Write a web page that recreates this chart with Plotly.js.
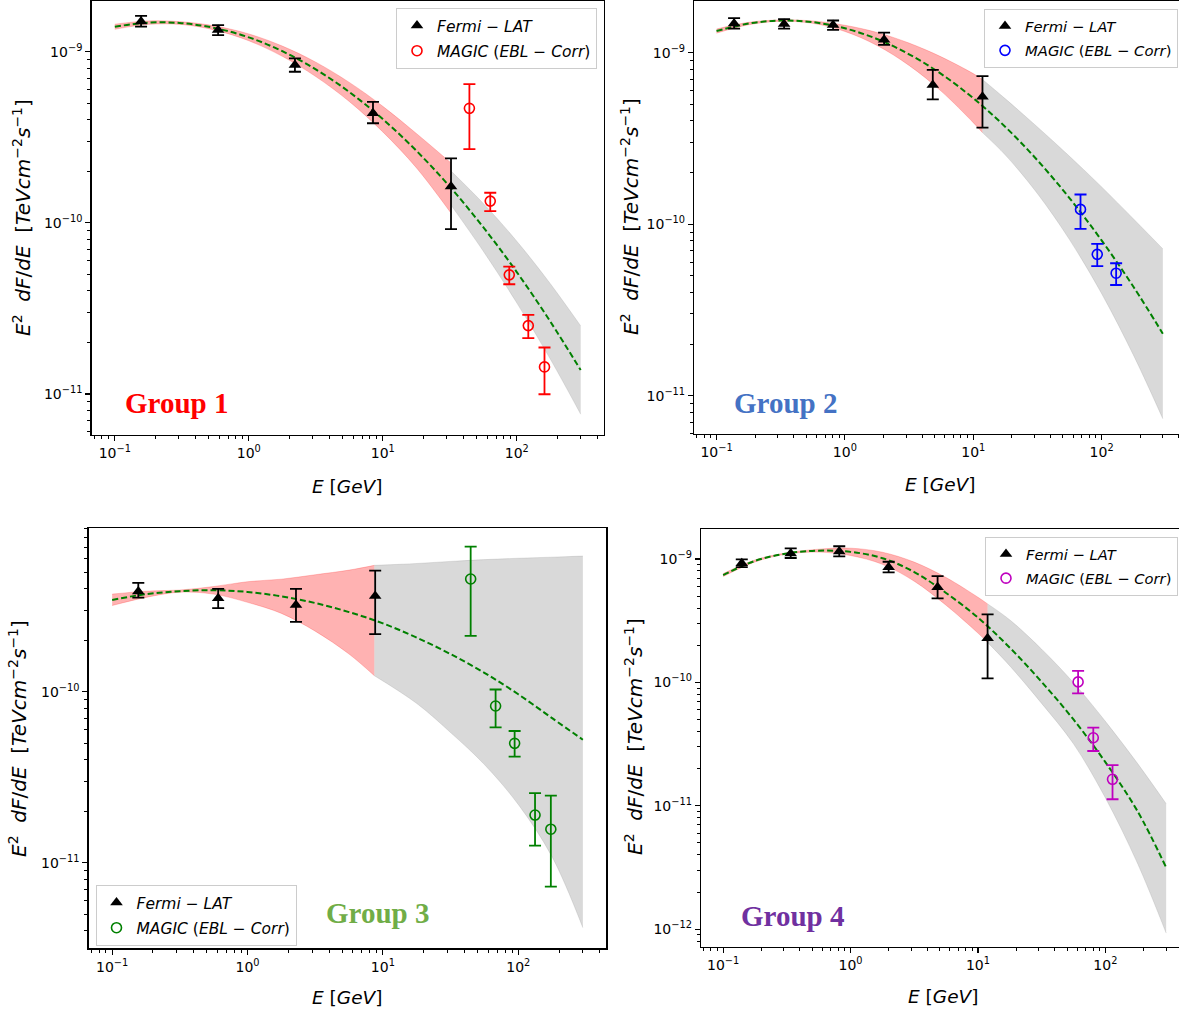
<!DOCTYPE html>
<html><head><meta charset="utf-8">
<script src="https://cdn.plot.ly/plotly-3.0.1.min.js"></script>
<style>html,body{margin:0;padding:0;background:#fff}#chart{width:1179px;height:1013px}</style>
</head><body><div id="chart"></div>
<script>
// ---------------- shared ----------------
const modelE = [0.1, 0.178, 0.316, 0.562, 1, 1.78, 3.16, 5.62, 10, 17.8, 31.6, 56.2, 100, 178, 300];
const xTickVals = [0.1, 1, 10, 100];
const xTickText = ['10<sup>−1</sup>', '10<sup>0</sup>', '10<sup>1</sup>', '10<sup>2</sup>'];
const groupNames = ['Group 1', 'Group 2', 'Group 3', 'Group 4'];
const fermiName = '<i>Fermi − LAT</i>';
const magicName = '<i>MAGIC</i> (<i>EBL − Corr</i>)';

// ---------------- Group 1 ----------------
const g1FermiE = [0.157, 0.59, 2.21, 8.45, 32.3];
const g1FermiF = [1.50e-9, 1.34e-9, 8.36e-10, 4.37e-10, 1.63e-10];
const g1FermiHi = [1.62e-9, 1.43e-9, 9.15e-10, 5.10e-10, 2.38e-10];
const g1FermiLo = [1.40e-9, 1.25e-9, 7.64e-10, 3.82e-10, 9.2e-11];
const g1MagicE = [44.3, 63.4, 87.9, 121.9, 161];
const g1MagicF = [4.67e-10, 1.34e-10, 4.97e-11, 2.51e-11, 1.44e-11];
const g1MagicHi = [6.47e-10, 1.50e-10, 5.55e-11, 2.90e-11, 1.87e-11];
const g1MagicLo = [2.70e-10, 1.17e-10, 4.38e-11, 2.12e-11, 9.97e-12];
const g1ModelF = [1.400e-9, 1.479e-9, 1.469e-9, 1.374e-9, 1.213e-9, 1.007e-9, 7.89e-10, 5.82e-10, 4.04e-10, 2.64e-10, 1.63e-10, 9.44e-11, 5.16e-11, 2.65e-11, 1.38e-11];
const g1FitE = [0.1, 0.178, 0.316, 0.562, 1, 1.78, 3.16, 5.62, 10, 17.8, 32.3];
const g1FitHi = [1.449e-9, 1.514e-9, 1.496e-9, 1.413e-9, 1.271e-9, 1.079e-9, 8.69e-10, 6.62e-10, 4.80e-10, 3.33e-10, 2.24e-10];
const g1FitLo = [1.352e-9, 1.445e-9, 1.442e-9, 1.337e-9, 1.159e-9, 9.40e-10, 7.16e-10, 5.12e-10, 3.40e-10, 2.10e-10, 1.14e-10];
const g1ExtE = [32.3, 56.2, 100, 178, 300];
const g1ExtHi = [2.01e-10, 1.30e-10, 7.82e-11, 4.41e-11, 2.50e-11];
const g1ExtLo = [1.27e-10, 6.84e-11, 3.41e-11, 1.60e-11, 7.62e-12];

// ---------------- Group 2 ----------------
const g2FermiE = [0.137, 0.336, 0.809, 2.02, 4.84, 11.8];
const g2FermiF = [1.48e-9, 1.47e-9, 1.45e-9, 1.19e-9, 6.48e-10, 5.53e-10];
const g2FermiHi = [1.59e-9, 1.57e-9, 1.54e-9, 1.31e-9, 7.93e-10, 7.31e-10];
const g2FermiLo = [1.38e-9, 1.38e-9, 1.36e-9, 1.11e-9, 5.34e-10, 3.66e-10];
const g2MagicE = [68.5, 92.5, 129.8];
const g2MagicF = [1.22e-10, 6.67e-11, 5.18e-11];
const g2MagicHi = [1.49e-10, 7.67e-11, 5.92e-11];
const g2MagicLo = [9.38e-11, 5.70e-11, 4.42e-11];
const g2ModelF = [1.337e-9, 1.479e-9, 1.538e-9, 1.507e-9, 1.387e-9, 1.202e-9, 9.79e-10, 7.52e-10, 5.43e-10, 3.69e-10, 2.36e-10, 1.42e-10, 8.05e-11, 4.29e-11, 2.30e-11];
const g2FitE = [0.1, 0.178, 0.316, 0.562, 1, 1.78, 3.16, 5.62, 10, 11.8];
const g2FitHi = [1.374e-9, 1.503e-9, 1.552e-9, 1.531e-9, 1.445e-9, 1.312e-9, 1.138e-9, 9.46e-10, 7.55e-10, 6.98e-10];
const g2FitLo = [1.300e-9, 1.455e-9, 1.524e-9, 1.483e-9, 1.330e-9, 1.102e-9, 8.43e-10, 5.97e-10, 3.91e-10, 3.42e-10];
const g2ExtE = [11.8, 17.8, 31.6, 56.2, 100, 178, 300];
const g2ExtHi = [6.98e-10, 5.38e-10, 3.69e-10, 2.49e-10, 1.65e-10, 1.07e-10, 7.18e-11];
const g2ExtLo = [3.42e-10, 2.53e-10, 1.51e-10, 8.13e-11, 3.94e-11, 1.71e-11, 7.34e-12];

// ---------------- Group 3 ----------------
const g3FermiE = [0.156, 0.607, 2.28, 8.77];
const g3FermiF = [3.85e-10, 3.52e-10, 3.21e-10, 3.63e-10];
const g3FermiHi = [4.33e-10, 3.99e-10, 3.99e-10, 5.10e-10];
const g3FermiLo = [3.55e-10, 3.08e-10, 2.56e-10, 2.17e-10];
const g3MagicE = [44.5, 68, 94, 133, 174];
const g3MagicF = [4.56e-10, 8.25e-11, 4.99e-11, 1.90e-11, 1.57e-11];
const g3MagicHi = [7.05e-10, 1.03e-10, 5.89e-11, 2.55e-11, 2.47e-11];
const g3MagicLo = [2.12e-10, 6.19e-11, 4.17e-11, 1.26e-11, 7.24e-12];
const g3ModelF = [3.44e-10, 3.72e-10, 3.87e-10, 3.92e-10, 3.83e-10, 3.61e-10, 3.30e-10, 2.92e-10, 2.51e-10, 2.07e-10, 1.66e-10, 1.29e-10, 9.66e-11, 7.00e-11, 5.24e-11];
const g3FitE = [0.1, 0.178, 0.316, 0.562, 1, 1.78, 3.16, 5.62, 8.65];
const g3FitHi = [3.72e-10, 3.87e-10, 3.93e-10, 4.12e-10, 4.40e-10, 4.55e-10, 4.83e-10, 5.14e-10, 5.48e-10];
const g3FitLo = [3.19e-10, 3.56e-10, 3.82e-10, 3.72e-10, 3.33e-10, 2.87e-10, 2.26e-10, 1.66e-10, 1.24e-10];
const g3ExtE = [8.65, 17.8, 31.6, 56.2, 100, 178, 300];
const g3ExtHi = [5.48e-10, 5.62e-10, 5.78e-10, 5.92e-10, 6.03e-10, 6.12e-10, 6.21e-10];
const g3ExtLo = [1.24e-10, 8.53e-11, 5.77e-11, 3.75e-11, 2.19e-11, 1.08e-11, 4.17e-12];

// ---------------- Group 4 ----------------
const g4FermiE = [0.140, 0.339, 0.815, 1.99, 4.82, 11.9];
const g4FermiF = [9.23e-10, 1.11e-9, 1.15e-9, 8.57e-10, 5.90e-10, 2.28e-10];
const g4FermiHi = [9.95e-10, 1.22e-9, 1.27e-9, 9.51e-10, 7.28e-10, 3.56e-10];
const g4FermiLo = [8.60e-10, 1.02e-9, 1.05e-9, 7.80e-10, 4.80e-10, 1.08e-10];
const g4MagicE = [61.1, 80.4, 113.8];
const g4MagicF = [1.01e-10, 3.56e-11, 1.64e-11];
const g4MagicHi = [1.24e-10, 4.30e-11, 2.14e-11];
const g4MagicLo = [8.16e-11, 2.78e-11, 1.13e-11];
const g4ModelF = [7.41e-10, 9.66e-10, 1.109e-9, 1.169e-9, 1.143e-9, 1.016e-9, 7.85e-10, 5.31e-10, 3.35e-10, 1.91e-10, 1.01e-10, 5.01e-11, 2.26e-11, 9.12e-12, 3.16e-12];
const g4FitE = [0.1, 0.178, 0.316, 0.562, 1, 1.78, 3.16, 5.62, 10, 11.9];
const g4FitHi = [7.62e-10, 9.84e-10, 1.122e-9, 1.202e-9, 1.225e-9, 1.135e-9, 9.44e-10, 7.08e-10, 4.90e-10, 4.33e-10];
const g4FitLo = [7.21e-10, 9.48e-10, 1.096e-9, 1.138e-9, 1.067e-9, 9.06e-10, 6.61e-10, 4.22e-10, 2.51e-10, 2.11e-10];
const g4ExtE = [11.9, 17.8, 31.6, 56.2, 100, 178, 300];
const g4ExtHi = [4.33e-10, 3.21e-10, 1.86e-10, 9.95e-11, 4.84e-11, 2.22e-11, 1.04e-11];
const g4ExtLo = [2.11e-10, 1.36e-10, 6.76e-11, 3.18e-11, 1.16e-11, 3.45e-12, 9.3e-13];

// ---------------- build ----------------
const groups = [
  {fE:g1FermiE,fF:g1FermiF,fHi:g1FermiHi,fLo:g1FermiLo,mE:g1MagicE,mF:g1MagicF,mHi:g1MagicHi,mLo:g1MagicLo,model:g1ModelF,bE:g1FitE,bHi:g1FitHi,bLo:g1FitLo,eE:g1ExtE,eHi:g1ExtHi,eLo:g1ExtLo,color:'#ff0000',xa:'x',ya:'y',leg:'legend'},
  {fE:g2FermiE,fF:g2FermiF,fHi:g2FermiHi,fLo:g2FermiLo,mE:g2MagicE,mF:g2MagicF,mHi:g2MagicHi,mLo:g2MagicLo,model:g2ModelF,bE:g2FitE,bHi:g2FitHi,bLo:g2FitLo,eE:g2ExtE,eHi:g2ExtHi,eLo:g2ExtLo,color:'#0000ff',xa:'x2',ya:'y2',leg:'legend2'},
  {fE:g3FermiE,fF:g3FermiF,fHi:g3FermiHi,fLo:g3FermiLo,mE:g3MagicE,mF:g3MagicF,mHi:g3MagicHi,mLo:g3MagicLo,model:g3ModelF,bE:g3FitE,bHi:g3FitHi,bLo:g3FitLo,eE:g3ExtE,eHi:g3ExtHi,eLo:g3ExtLo,color:'#008000',xa:'x3',ya:'y3',leg:'legend3'},
  {fE:g4FermiE,fF:g4FermiF,fHi:g4FermiHi,fLo:g4FermiLo,mE:g4MagicE,mF:g4MagicF,mHi:g4MagicHi,mLo:g4MagicLo,model:g4ModelF,bE:g4FitE,bHi:g4FitHi,bLo:g4FitLo,eE:g4ExtE,eHi:g4ExtHi,eLo:g4ExtLo,color:'#bf00bf',xa:'x4',ya:'y4',leg:'legend4'}
];

const RED_FILL = 'rgba(255,0,0,0.3)', RED_EDGE = 'rgba(255,0,0,0.25)';
const GRAY_FILL = 'rgba(128,128,128,0.3)', GRAY_EDGE = 'rgba(128,128,128,0.25)';

function bandTraces(E, lo, hi, fill, edge, xa, ya) {
  const line = {color: edge, width: 0.8, shape: 'spline', smoothing: 1};
  return [
    {x: E, y: lo, xaxis: xa, yaxis: ya, mode: 'lines', line: line, showlegend: false, hoverinfo: 'skip'},
    {x: E, y: hi, xaxis: xa, yaxis: ya, mode: 'lines', line: line, fill: 'tonexty', fillcolor: fill, showlegend: false, hoverinfo: 'skip'}
  ];
}

const data = [];
groups.forEach((g, k) => {
  data.push(...bandTraces(g.bE, g.bLo, g.bHi, RED_FILL, RED_EDGE, g.xa, g.ya));
  data.push(...bandTraces(g.eE, g.eLo, g.eHi, GRAY_FILL, GRAY_EDGE, g.xa, g.ya));
  data.push({x: modelE, y: g.model, xaxis: g.xa, yaxis: g.ya, mode: 'lines',
    line: {color: '#008000', width: 2, dash: '6px,3px', shape: 'spline', smoothing: 1}, showlegend: false, hoverinfo: 'skip'});
  data.push({x: g.fE, y: g.fF, xaxis: g.xa, yaxis: g.ya, mode: 'markers', name: fermiName,
    legend: g.leg, legendgroup: 'f' + k,
    marker: {symbol: 'triangle-up', size: 11, color: '#000'},
    error_y: {type: 'data', symmetric: false, array: g.fHi.map((h, i) => h - g.fF[i]), arrayminus: g.fF.map((f, i) => f - g.fLo[i]), color: '#000', thickness: 1.8, width: 6}});
  data.push({x: g.mE, y: g.mF, xaxis: g.xa, yaxis: g.ya, mode: 'markers', name: magicName,
    legend: g.leg, legendgroup: 'm' + k,
    marker: {symbol: 'circle-open', size: 10, color: g.color, line: {width: 1.6, color: g.color}},
    error_y: {type: 'data', symmetric: false, array: g.mHi.map((h, i) => h - g.mF[i]), arrayminus: g.mF.map((f, i) => f - g.mLo[i]), color: g.color, thickness: 1.8, width: 6}});
});

// minor tick positions (2..9 x decade)
function minorTicks(d0, d1) {
  const v = [];
  for (let d = d0; d <= d1; d++) for (let m = 2; m <= 9; m++) v.push(m * Math.pow(10, d));
  return v;
}
function decadeTicks(d0, d1) { const v = []; for (let d = d0; d <= d1; d++) v.push(Math.pow(10, d)); return v; }
function decadeText(d0, d1) { const v = []; for (let d = d0; d <= d1; d++) v.push('10<sup>' + (d < 0 ? '−' + (-d) : d) + '</sup>'); return v; }

const W = 1179, H = 1013;
const tickFont = {family: 'DejaVu Sans', size: 14, color: '#000'};
function xAxis(pxL, pxR, range, anchor) {
  return {type: 'log', domain: [pxL / W, pxR / W], range: range, anchor: anchor,
    showline: true, linecolor: '#000', linewidth: 1.3, mirror: true,
    ticks: 'outside', ticklen: 5, tickwidth: 1.1, tickcolor: '#000',
    tickmode: 'array', tickvals: xTickVals, ticktext: xTickText, tickfont: tickFont,
    showgrid: false, zeroline: false,
    minor: {tickmode: 'array', tickvals: minorTicks(-2, 2), ticks: 'outside', ticklen: 3, tickwidth: 1, tickcolor: '#000', showgrid: false}};
}
function yAxis(pxTop, pxBot, range, anchor, d0, d1, mirror) {
  return {type: 'log', domain: [1 - pxBot / H, 1 - pxTop / H], range: range, anchor: anchor,
    showline: true, linecolor: '#000', linewidth: 1.3, mirror: mirror,
    ticks: 'outside', ticklen: 5, tickwidth: 1.1, tickcolor: '#000',
    tickmode: 'array', tickvals: decadeTicks(d0, d1), ticktext: decadeText(d0, d1), tickfont: tickFont,
    showgrid: false, zeroline: false,
    minor: {tickmode: 'array', tickvals: minorTicks(d0 - 1, d1), ticks: 'outside', ticklen: 3, tickwidth: 1, tickcolor: '#000', showgrid: false}};
}

function legendAt(px, py, anchor, size) {
  return {x: px / W, y: 1 - py / H, xanchor: anchor, yanchor: 'top', bgcolor: 'rgba(255,255,255,0.85)',
    bordercolor: '#cccccc', borderwidth: 1, font: {family: 'DejaVu Sans', size: size, color: '#000'},
    tracegroupgap: 2, itemwidth: 30};
}

const yTitle = '<i>E</i><sup>2</sup>\u00a0\u00a0<i>dF</i>/<i>dE</i>\u00a0\u00a0[<i>TeVcm</i><sup>−2</sup><i>s</i><sup>−1</sup>]';
const xTitle = '<i>E</i>\u00a0[<i>GeV</i>]';
const yTitleFont = {family: 'DejaVu Sans', size: 20, color: '#000'};
const xTitleFont = {family: 'DejaVu Sans', size: 18.5, color: '#000'};
function ann(text, px, py, font, angle) {
  return {text: text, x: px / W, y: 1 - py / H, xref: 'paper', yref: 'paper', xanchor: 'center', yanchor: 'middle',
    showarrow: false, font: font, textangle: angle || 0};
}
const groupColors = ['#ff0000', '#4472c4', '#70ad47', '#7030a0'];
const groupFont = c => ({family: 'Liberation Serif, Times New Roman, serif', size: 29, color: c});

const layout = {
  width: W, height: H, margin: {l: 0, r: 0, t: 0, b: 0, autoexpand: false},
  paper_bgcolor: '#fff', plot_bgcolor: '#fff', showlegend: true,
  xaxis: xAxis(91.5, 604, [-1.174, 2.651], 'y'),
  yaxis: yAxis(0.9, 435.1, [-11.24, -8.703], 'x', -11, -9, true),
  xaxis2: xAxis(694.2, 1179, [-1.174, 2.603], 'y2'),
  yaxis2: yAxis(1.4, 433.8, [-11.222, -8.701], 'x2', -11, -9, false),
  xaxis3: xAxis(88.6, 606.4, [-1.174, 2.651], 'y3'),
  yaxis3: yAxis(528.2, 948.4, [-11.501, -9.044], 'x3', -11, -10, true),
  xaxis4: xAxis(701, 1179, [-1.174, 2.578], 'y4'),
  yaxis4: yAxis(529.3, 946.6, [-12.141, -8.759], 'x4', -12, -9, false),
  legend: legendAt(597, 8, 'right', 15.5),
  legend2: legendAt(1178, 9, 'right', 14.8),
  legend3: legendAt(95.5, 885, 'left', 15.5),
  legend4: legendAt(1178, 537, 'right', 14.7),
  annotations: [
    ann(yTitle, 22, 218, yTitleFont, -90),
    ann(yTitle, 630, 217, yTitleFont, -90),
    ann(yTitle, 18, 739, yTitleFont, -90),
    ann(yTitle, 634, 737, yTitleFont, -90),
    ann(xTitle, 347, 487, xTitleFont),
    ann(xTitle, 940, 485, xTitleFont),
    ann(xTitle, 347, 997, xTitleFont),
    ann(xTitle, 943, 996, xTitleFont),
    ann('<b>' + groupNames[0] + '</b>', 176, 403, groupFont(groupColors[0])),
    ann('<b>' + groupNames[1] + '</b>', 785, 403, groupFont(groupColors[1])),
    ann('<b>' + groupNames[2] + '</b>', 377, 913, groupFont(groupColors[2])),
    ann('<b>' + groupNames[3] + '</b>', 792, 916, groupFont(groupColors[3]))
  ]
};

Plotly.newPlot('chart', data, layout, {staticPlot: true, displayModeBar: false});
</script>
</body></html>
